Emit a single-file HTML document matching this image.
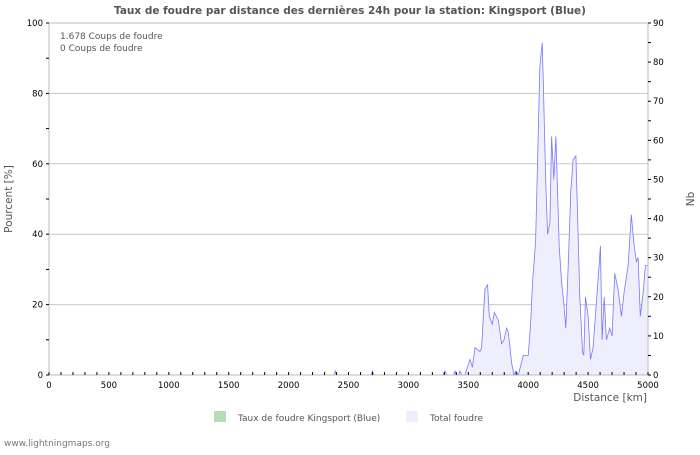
<!DOCTYPE html>
<html><head><meta charset="utf-8"><style>
body{margin:0;background:#fff;font-family:"Liberation Sans","DejaVu Sans",sans-serif;}
svg text{font-family:"DejaVu Sans","Liberation Sans",sans-serif;}
</style></head><body>
<svg id="c" width="700" height="450" xmlns="http://www.w3.org/2000/svg">
<rect width="700" height="450" fill="#fff"/>
<text x="350" y="14" text-anchor="middle" font-size="10.5" font-weight="bold" fill="#555">Taux de foudre par distance des dernières 24h pour la station: Kingsport (Blue)</text>
<g id="grid"></g>
<g id="series"></g>
<g id="axes"></g>
<text x="60" y="39" font-size="9" fill="#555">1.678  Coups de foudre</text>
<text x="60" y="51" font-size="9" fill="#555">0  Coups de foudre</text>
<text x="12" y="199" font-size="10.5" fill="#555" transform="rotate(-90 12 199)" text-anchor="middle">Pourcent   [%]</text>
<text x="694" y="199" font-size="10.5" fill="#555" transform="rotate(-90 694 199)" text-anchor="middle">Nb</text>
<text x="647" y="401" font-size="10.5" fill="#555" text-anchor="end">Distance   [km]</text>
<rect x="214" y="411" width="12" height="11" fill="#b3dfb3"/>
<text x="238" y="421" font-size="9" fill="#555">Taux de foudre Kingsport (Blue)</text>
<rect x="406" y="411" width="12" height="11" fill="#eeeefc"/>
<text x="430" y="421" font-size="9" fill="#555">Total foudre</text>
<text x="4" y="446" font-size="9" fill="#777">www.lightningmaps.org</text>
</svg>
<script>
const distancesKm=[0,2380,2390,2400,2690,2700,2710,3290,3305,3320,3375,3389,3400,3420,3430,3445,3472,3514,3534,3556,3597,3611,3631,3639,3661,3675,3700,3717,3750,3778,3798,3820,3834,3862,3881,3898,3917,3959,4000,4020,4037,4062,4078,4098,4117,4125,4139,4148,4162,4181,4195,4214,4231,4242,4259,4278,4298,4314,4334,4356,4375,4398,4417,4431,4453,4464,4478,4500,4520,4542,4570,4592,4603,4617,4634,4653,4680,4700,4722,4750,4778,4800,4834,4861,4881,4903,4917,4936,4959,4978,5000];
const totalCounts=[0,0,1,0,0,1,0,0,1,0,0,1,0,0,1,0,0,4,2,7,6,7,18,22,23,15,13,16,14,8,9,12,11,3,0,1,0,5,5,13,24,34,54,79,85,76,58,48,36,39,61,50,61,50,33,24,18,12,28,47,55,56,35,20,6,5,20,15,4,7,19,28,33,9,20,9,12,10,26,22,15,21,28,41,34,29,30,15,21,28,28];
const stationPct=distancesKm.map(()=>0);
const leftTicks=[0,20,40,60,80,100];
const rightTicks=[0,10,20,30,40,50,60,70,80,90];
const xTicks=[0,500,1000,1500,2000,2500,3000,3500,4000,4500,5000];
const X0=49,X1=648,Y0=375,Y1=23;
const xs=k=>X0+(X1-X0)*k/5000, yl=v=>Y0-(Y0-Y1)*v/100, yr=v=>Y0-(Y0-Y1)*v/90;
const NS="http://www.w3.org/2000/svg";
function mk(t,a,p){const e=document.createElementNS(NS,t);for(const k in a)e.setAttribute(k,a[k]);p.appendChild(e);return e;}
const g=document.getElementById('grid'),s=document.getElementById('series'),ax=document.getElementById('axes');
leftTicks.forEach(v=>{if(v>0&&v<100){const l=mk('line',{x1:X0,x2:X1,y1:yl(v),y2:yl(v),stroke:'#c8c8c8','stroke-width':1},g);

}});
let d='M'+xs(distancesKm[0])+','+Y0;
distancesKm.forEach((k,i)=>{d+=' L'+xs(k).toFixed(1)+','+yr(totalCounts[i]).toFixed(1);});
const area=mk('path',{d:d+' L'+xs(5000)+','+Y0+' Z',fill:'#eeeefc'},s);


const line=mk('path',{d:distancesKm.map((k,i)=>(i?'L':'M')+xs(k).toFixed(1)+','+yr(totalCounts[i]).toFixed(1)).join(' '),fill:'none',stroke:'#7777ff','stroke-width':0.8},s);


const sl=mk('path',{d:distancesKm.map((k,i)=>(i?'L':'M')+xs(k).toFixed(1)+','+yl(stationPct[i]).toFixed(1)).join(' '),fill:'none',stroke:'#66bb66','stroke-width':0.8},s);


mk('rect',{x:X0,y:Y1,width:X1-X0,height:Y0-Y1,fill:'none',stroke:'#bbb'},ax);
for(let v=0;v<=100;v+=10){mk('line',{x1:X0-3,x2:X0,y1:yl(v),y2:yl(v),stroke:'#000'},ax);}
leftTicks.forEach(v=>{const t=mk('text',{x:X0-6,y:yl(v)+3,'text-anchor':'end','font-size':8.5,fill:'#000'},ax);t.textContent=v;

});
for(let v=0;v<=90;v+=5){mk('line',{x1:X1,x2:X1+3,y1:yr(v),y2:yr(v),stroke:'#000'},ax);}
rightTicks.forEach(v=>{const t=mk('text',{x:X1+5,y:yr(v)+3,'font-size':8.5,fill:'#000'},ax);t.textContent=v;

});
for(let k=0;k<=5000;k+=100){mk('line',{x1:xs(k),x2:xs(k),y1:Y0,y2:Y0-3,stroke:'#000'},ax);}
xTicks.forEach(k=>{const t=mk('text',{x:xs(k),y:Y0+13,'text-anchor':'middle','font-size':8.5,fill:'#000'},ax);t.textContent=k;

});
</script>
</body></html>
